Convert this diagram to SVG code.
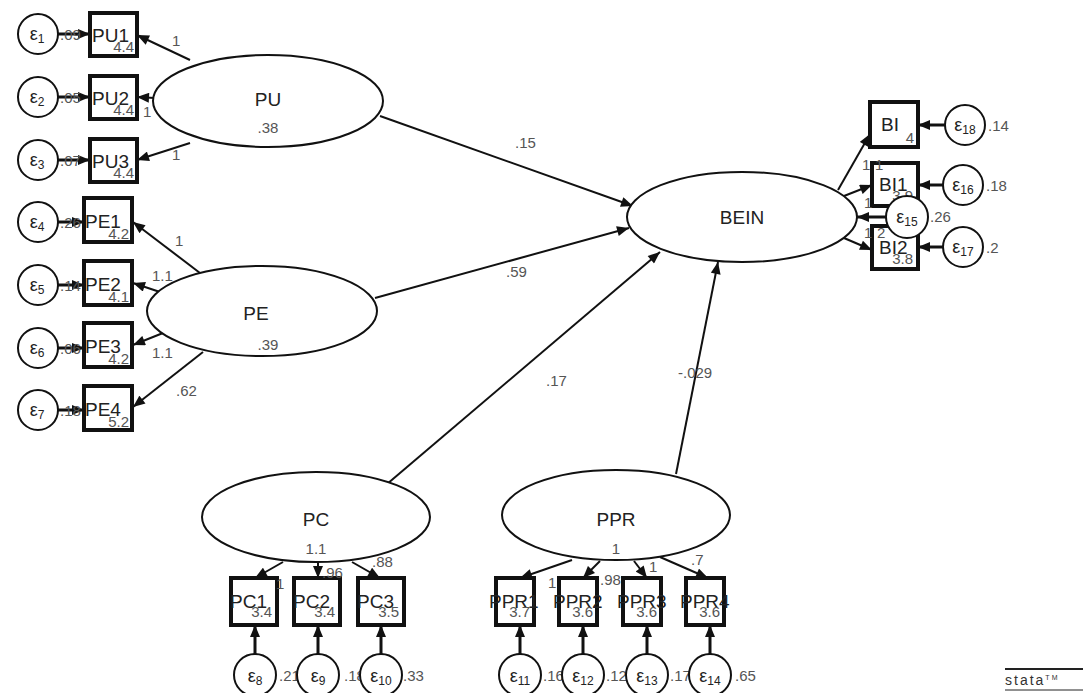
<svg xmlns="http://www.w3.org/2000/svg" width="1088" height="693" viewBox="0 0 1088 693">
<defs>
<marker id="ah" viewBox="0 0 12 10" refX="12" refY="5" markerWidth="13" markerHeight="10" markerUnits="userSpaceOnUse" orient="auto">
<path d="M0,0 L12,5 L0,10 z" fill="#111"/>
</marker>
<style>
.lat{fill:#fff;stroke:#111;stroke-width:2}
.box{fill:#fff;stroke:#111;stroke-width:4}
.err{fill:#fff;stroke:#111;stroke-width:2}
.c{stroke:#111;stroke-width:2;fill:none;marker-end:url(#ah)}
.ce{stroke:#111;stroke-width:3;fill:none;marker-end:url(#ah)}
text{font-family:"Liberation Sans",Arial,sans-serif}
.nm{font-size:19px;fill:#222;text-anchor:middle}
.bn{font-size:19px;fill:#222}
.num{font-size:15px;fill:#555}
.icp{font-size:15px;fill:#555;text-anchor:end}
.eps{font-size:18px;fill:#222;text-anchor:middle}
.sub{font-size:12px}
</style>
</defs>
<rect width="1088" height="693" fill="#fff"/>

<g id="connectors">
<line class="c" x1="190" y1="60" x2="137" y2="35"/>
<line class="c" x1="155" y1="98" x2="137" y2="97"/>
<line class="c" x1="190" y1="143" x2="137" y2="160"/>
<line class="c" x1="200" y1="273" x2="133" y2="222"/>
<line class="c" x1="163" y1="293" x2="133" y2="283"/>
<line class="c" x1="163" y1="333" x2="133" y2="345"/>
<line class="c" x1="203" y1="352" x2="133" y2="407"/>
<line class="ce" x1="58" y1="34" x2="90" y2="34"/>
<line class="ce" x1="58" y1="97" x2="90" y2="97"/>
<line class="ce" x1="58" y1="160" x2="90" y2="160"/>
<line class="ce" x1="58" y1="222" x2="84" y2="222"/>
<line class="ce" x1="58" y1="285" x2="84" y2="285"/>
<line class="ce" x1="58" y1="348" x2="84" y2="348"/>
<line class="ce" x1="58" y1="410" x2="84" y2="410"/>
<line class="c" x1="380" y1="116" x2="633" y2="206"/>
<line class="c" x1="375" y1="298" x2="629" y2="228"/>
<line class="c" x1="380" y1="490" x2="660" y2="252"/>
<line class="c" x1="676" y1="474" x2="718" y2="262"/>
<line class="c" x1="838" y1="190" x2="870" y2="134"/>
<line class="c" x1="844" y1="196" x2="872" y2="185"/>
<line class="c" x1="844" y1="238" x2="872" y2="250"/>
<line class="ce" x1="886" y1="217" x2="857" y2="217"/>
<line class="ce" x1="945" y1="125" x2="918" y2="125"/>
<line class="ce" x1="943" y1="185" x2="918" y2="185"/>
<line class="ce" x1="943" y1="247" x2="918" y2="247"/>
<line class="c" x1="283" y1="562" x2="255" y2="578"/>
<line class="c" x1="318" y1="562" x2="318" y2="578"/>
<line class="c" x1="352" y1="562" x2="380" y2="578"/>
<line class="c" x1="572" y1="560" x2="520" y2="578"/>
<line class="c" x1="600" y1="561" x2="583" y2="578"/>
<line class="c" x1="634" y1="561" x2="647" y2="578"/>
<line class="c" x1="660" y1="557" x2="708" y2="578"/>
<line class="ce" x1="255" y1="654" x2="255" y2="625"/>
<line class="ce" x1="318" y1="654" x2="318" y2="625"/>
<line class="ce" x1="381" y1="654" x2="381" y2="625"/>
<line class="ce" x1="520" y1="654" x2="520" y2="625"/>
<line class="ce" x1="583" y1="654" x2="583" y2="625"/>
<line class="ce" x1="647" y1="654" x2="647" y2="625"/>
<line class="ce" x1="710" y1="654" x2="710" y2="625"/>
</g>

<g id="PU"><ellipse class="lat" cx="268" cy="101" rx="115" ry="46"/><text class="nm" x="268" y="106">PU</text><text class="num" x="268" y="133" text-anchor="middle">.38</text></g>
<g id="PE"><ellipse class="lat" cx="262" cy="311" rx="115" ry="45"/><text class="nm" x="256" y="320">PE</text><text class="num" x="268" y="350" text-anchor="middle">.39</text></g>
<g id="BEIN"><ellipse class="lat" cx="742" cy="217" rx="115" ry="45"/><text class="nm" x="742" y="224">BEIN</text></g>
<g id="PC"><ellipse class="lat" cx="316" cy="517" rx="114" ry="45"/><text class="nm" x="316" y="526">PC</text><text class="num" x="316" y="554" text-anchor="middle">1.1</text></g>
<g id="PPR"><ellipse class="lat" cx="616" cy="515" rx="114" ry="45"/><text class="nm" x="616" y="526">PPR</text><text class="num" x="616" y="554" text-anchor="middle">1</text></g>

<g id="PU1"><rect class="box" x="90" y="13" width="47" height="43"/><text class="bn" x="92" y="42">PU1</text><text class="icp" x="134" y="52">4.4</text></g>
<g id="PU2"><rect class="box" x="90" y="76" width="47" height="43"/><text class="bn" x="92" y="105">PU2</text><text class="icp" x="134" y="115">4.4</text></g>
<g id="PU3"><rect class="box" x="90" y="139" width="47" height="43"/><text class="bn" x="92" y="168">PU3</text><text class="icp" x="134" y="178">4.4</text></g>
<g id="PE1"><rect class="box" x="84" y="198" width="48" height="44"/><text class="bn" x="85" y="228">PE1</text><text class="icp" x="129" y="239">4.2</text></g>
<g id="PE2"><rect class="box" x="84" y="261" width="48" height="44"/><text class="bn" x="85" y="291">PE2</text><text class="icp" x="129" y="302">4.1</text></g>
<g id="PE3"><rect class="box" x="84" y="323" width="48" height="44"/><text class="bn" x="85" y="353">PE3</text><text class="icp" x="129" y="364">4.2</text></g>
<g id="PE4"><rect class="box" x="84" y="386" width="48" height="44"/><text class="bn" x="85" y="416">PE4</text><text class="icp" x="129" y="427">5.2</text></g>

<g id="BI4"><rect class="box" x="870" y="102" width="48" height="45"/><text class="bn" x="881" y="131">BI</text><text class="icp" x="914" y="143">4</text></g>
<g id="BI1"><rect class="box" x="872" y="163" width="46" height="43"/><text class="bn" x="879" y="191">BI1</text><text class="icp" x="913" y="201">3.9</text></g>
<g id="BI2"><rect class="box" x="872" y="226" width="46" height="43"/><text class="bn" x="879" y="254">BI2</text><text class="icp" x="913" y="264">3.8</text></g>

<g id="PC1"><rect class="box" x="231" y="578" width="46" height="47"/><text class="bn" x="230" y="608">PC1</text><text class="icp" x="272" y="617">3.4</text></g>
<g id="PC2"><rect class="box" x="294" y="578" width="46" height="47"/><text class="bn" x="293" y="608">PC2</text><text class="icp" x="335" y="617">3.4</text></g>
<g id="PC3"><rect class="box" x="358" y="578" width="46" height="47"/><text class="bn" x="357" y="608">PC3</text><text class="icp" x="399" y="617">3.5</text></g>
<g id="PPR1"><rect class="box" x="496" y="578" width="38" height="47"/><text class="bn" x="489" y="608">PPR1</text><text class="icp" x="530" y="617">3.7</text></g>
<g id="PPR2"><rect class="box" x="559" y="578" width="38" height="47"/><text class="bn" x="553" y="608">PPR2</text><text class="icp" x="593" y="617">3.6</text></g>
<g id="PPR3"><rect class="box" x="623" y="578" width="38" height="47"/><text class="bn" x="617" y="608">PPR3</text><text class="icp" x="657" y="617">3.6</text></g>
<g id="PPR4"><rect class="box" x="686" y="578" width="38" height="47"/><text class="bn" x="680" y="608">PPR4</text><text class="icp" x="720" y="617">3.6</text></g>

<g id="e1"><circle class="err" cx="38" cy="34" r="20"/><text class="eps" x="37" y="40">ε<tspan class="sub" dy="3">1</tspan></text><text class="num" x="60" y="40">.09</text></g>
<g id="e2"><circle class="err" cx="38" cy="97" r="20"/><text class="eps" x="37" y="103">ε<tspan class="sub" dy="3">2</tspan></text><text class="num" x="60" y="103">.05</text></g>
<g id="e3"><circle class="err" cx="38" cy="160" r="20"/><text class="eps" x="37" y="166">ε<tspan class="sub" dy="3">3</tspan></text><text class="num" x="60" y="166">.07</text></g>
<g id="e4"><circle class="err" cx="38" cy="222" r="20"/><text class="eps" x="37" y="228">ε<tspan class="sub" dy="3">4</tspan></text><text class="num" x="60" y="228">.26</text></g>
<g id="e5"><circle class="err" cx="38" cy="285" r="20"/><text class="eps" x="37" y="291">ε<tspan class="sub" dy="3">5</tspan></text><text class="num" x="60" y="291">.14</text></g>
<g id="e6"><circle class="err" cx="38" cy="348" r="20"/><text class="eps" x="37" y="354">ε<tspan class="sub" dy="3">6</tspan></text><text class="num" x="60" y="354">.06</text></g>
<g id="e7"><circle class="err" cx="38" cy="410" r="20"/><text class="eps" x="37" y="416">ε<tspan class="sub" dy="3">7</tspan></text><text class="num" x="60" y="416">.18</text></g>

<g id="e18"><circle class="err" cx="965" cy="125" r="20"/><text class="eps" x="965" y="131">ε<tspan class="sub" dy="3">18</tspan></text><text class="num" x="988" y="131">.14</text></g>
<g id="e16"><circle class="err" cx="963" cy="185" r="20"/><text class="eps" x="963" y="191">ε<tspan class="sub" dy="3">16</tspan></text><text class="num" x="986" y="191">.18</text></g>
<g id="e15"><circle class="err" cx="907" cy="217" r="21"/><text class="eps" x="907" y="223">ε<tspan class="sub" dy="3">15</tspan></text><text class="num" x="930" y="222">.26</text></g>
<g id="e17"><circle class="err" cx="963" cy="247" r="20"/><text class="eps" x="963" y="253">ε<tspan class="sub" dy="3">17</tspan></text><text class="num" x="986" y="253">.2</text></g>

<g id="e8"><circle class="err" cx="255" cy="675" r="21"/><text class="eps" x="255" y="682">ε<tspan class="sub" dy="3">8</tspan></text><text class="num" x="279" y="681">.21</text></g>
<g id="e9"><circle class="err" cx="318" cy="675" r="21"/><text class="eps" x="318" y="682">ε<tspan class="sub" dy="3">9</tspan></text><text class="num" x="344" y="681">.18</text></g>
<g id="e10"><circle class="err" cx="381" cy="675" r="21"/><text class="eps" x="381" y="682">ε<tspan class="sub" dy="3">10</tspan></text><text class="num" x="403" y="681">.33</text></g>
<g id="e11"><circle class="err" cx="520" cy="675" r="21"/><text class="eps" x="520" y="682">ε<tspan class="sub" dy="3">11</tspan></text><text class="num" x="543" y="681">.16</text></g>
<g id="e12"><circle class="err" cx="583" cy="675" r="21"/><text class="eps" x="583" y="682">ε<tspan class="sub" dy="3">12</tspan></text><text class="num" x="606" y="681">.12</text></g>
<g id="e13"><circle class="err" cx="647" cy="675" r="21"/><text class="eps" x="647" y="682">ε<tspan class="sub" dy="3">13</tspan></text><text class="num" x="670" y="681">.17</text></g>
<g id="e14"><circle class="err" cx="710" cy="675" r="21"/><text class="eps" x="710" y="682">ε<tspan class="sub" dy="3">14</tspan></text><text class="num" x="735" y="681">.65</text></g>

<g id="labels">
<text class="num" x="172" y="46">1</text>
<text class="num" x="143" y="117">1</text>
<text class="num" x="172" y="160">1</text>
<text class="num" x="175" y="246">1</text>
<text class="num" x="152" y="281">1.1</text>
<text class="num" x="152" y="358">1.1</text>
<text class="num" x="176" y="396">.62</text>
<text class="num" x="515" y="148">.15</text>
<text class="num" x="506" y="277">.59</text>
<text class="num" x="546" y="386">.17</text>
<text class="num" x="678" y="378">-.029</text>
<text class="num" x="862" y="170">1</text>
<text class="num" x="875" y="170">1</text>
<text class="num" x="864" y="208">1</text>
<text class="num" x="864" y="238">1</text>
<text class="num" x="877" y="238">2</text>
<text class="num" x="276" y="589">1</text>
<text class="num" x="322" y="578">.96</text>
<text class="num" x="372" y="567">.88</text>
<text class="num" x="548" y="588">1</text>
<text class="num" x="600" y="585">.98</text>
<text class="num" x="649" y="572">1</text>
<text class="num" x="691" y="565">.7</text>
</g>

<g id="logo">
<line x1="1005" y1="669" x2="1083" y2="669" stroke="#222" stroke-width="2"/>
<text x="1005" y="685" font-size="14" fill="#333" letter-spacing="2">stata<tspan font-size="7" dy="-5">TM</tspan></text>
<line x1="1005" y1="690" x2="1083" y2="690" stroke="#222" stroke-width="1"/>
</g>
</svg>
